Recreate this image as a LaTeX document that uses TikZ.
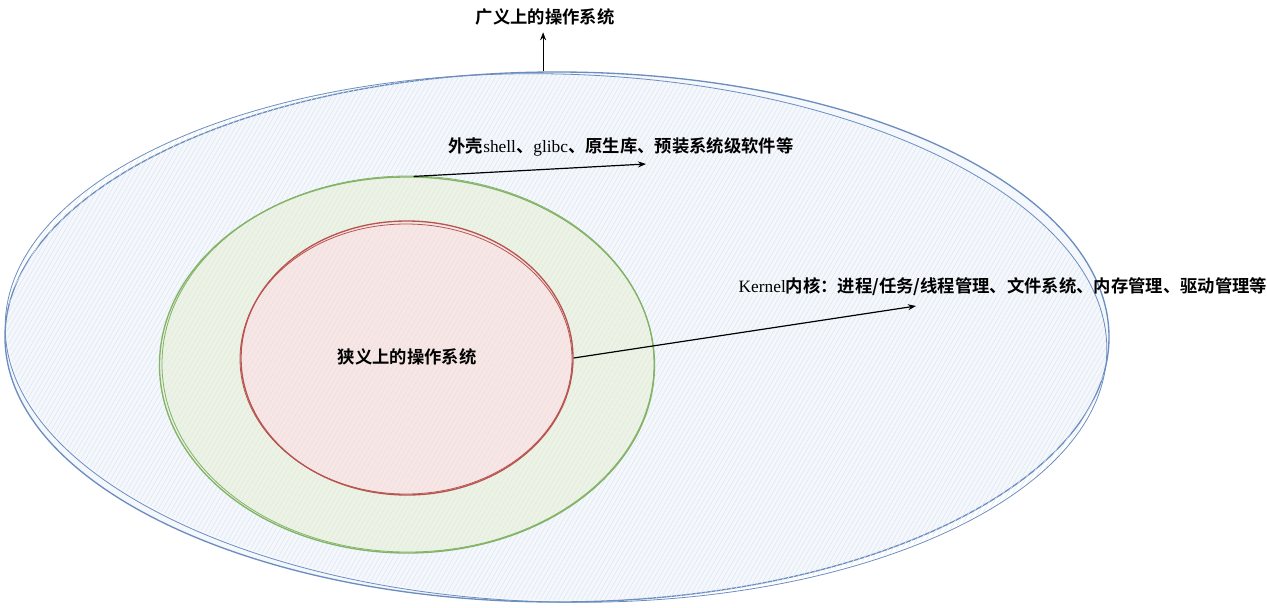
\documentclass[tikz,border=0pt]{standalone}
\usepackage{fontspec}
\setmainfont{Liberation Serif}
\newfontfamily\cjk{Noto Sans CJK SC}[BoldFont={Noto Sans CJK SC Bold}]
\usetikzlibrary{shapes.geometric,arrows.meta,patterns.meta}

\definecolor{outerline}{HTML}{6C8EBF}
\definecolor{outerfill}{HTML}{F4F7FC}
\definecolor{midline}{HTML}{82B366}
\definecolor{midfill}{HTML}{ECF2E6}
\definecolor{coreline}{HTML}{B85450}
\definecolor{corefill}{HTML}{F6E7E6}

\tikzset{
  ring/.style={ellipse, inner sep=0pt, line width=1pt},
  hatch/.style={pattern={Lines[angle=60,distance=3pt,line width=0.4pt]}, pattern color=#1},
  lbl/.style={font=\fontsize{13}{15}\selectfont\cjk\bfseries, inner sep=1pt},
  pointer/.style={-{Stealth[length=6pt,width=4.5pt,open]}, line width=0.9pt, black}
}

\begin{document}
\begin{tikzpicture}[x=0.75pt, y=-0.75pt]
  \useasboundingbox (0,0) rectangle (1267,607);

  % outer ring: the whole OS
  \node[ring, draw=outerline, fill=outerfill, minimum width=1104*0.75pt, minimum height=530*0.75pt] (outer) at (557,337) {};
  \path[hatch=outerline!22] (557,337) ellipse [x radius=550, y radius=263, rotate=-1.5];
  \draw[outerline, line width=0.6pt] (556,338) ellipse [x radius=551, y radius=264, rotate=-1.5];

  % middle ring: shell and libraries
  \node[ring, draw=midline, fill=midfill, minimum width=495*0.75pt, minimum height=376*0.75pt] (shellring) at (407,365) {};
  \path[hatch=midline!25] (407,365) ellipse [x radius=246, y radius=187];
  \draw[midline, line width=0.6pt] (408,364) ellipse [x radius=246, y radius=188];

  % inner ring: kernel
  \node[ring, draw=coreline, fill=corefill, minimum width=332*0.75pt, minimum height=274*0.75pt] (kernelring) at (407,358) {};
  \path[hatch=coreline!20] (407,358) ellipse [x radius=165, y radius=136];
  \draw[coreline, line width=0.6pt] (406,359) ellipse [x radius=166, y radius=135];

  % labels
  \node[lbl] (title) at (545,17) {广义上的操作系统};
  \node[lbl] (shell) at (621,147) {外壳{\rmfamily\mdseries shell}、{\rmfamily\mdseries glibc}、原生库、预装系统级软件等};
  \node[lbl] (kernel) at (1003,287) {{\rmfamily\mdseries Kernel}内核：进程/任务/线程管理、文件系统、内存管理、驱动管理等};
  \node[lbl] (narrow) at (407,357) {狭义上的操作系统};

  % pointers
  \coordinate (shelltip) at (646,164);
  \coordinate (kerneltip) at (916,306);
  \draw[pointer] (outer.93.5) -- ([yshift=-4pt]outer.93.5 |- title.south);
  \draw[pointer] (shellring.88) -- (shelltip);
  \draw[pointer] (kernelring.east) -- (kerneltip);
\end{tikzpicture}
\end{document}
